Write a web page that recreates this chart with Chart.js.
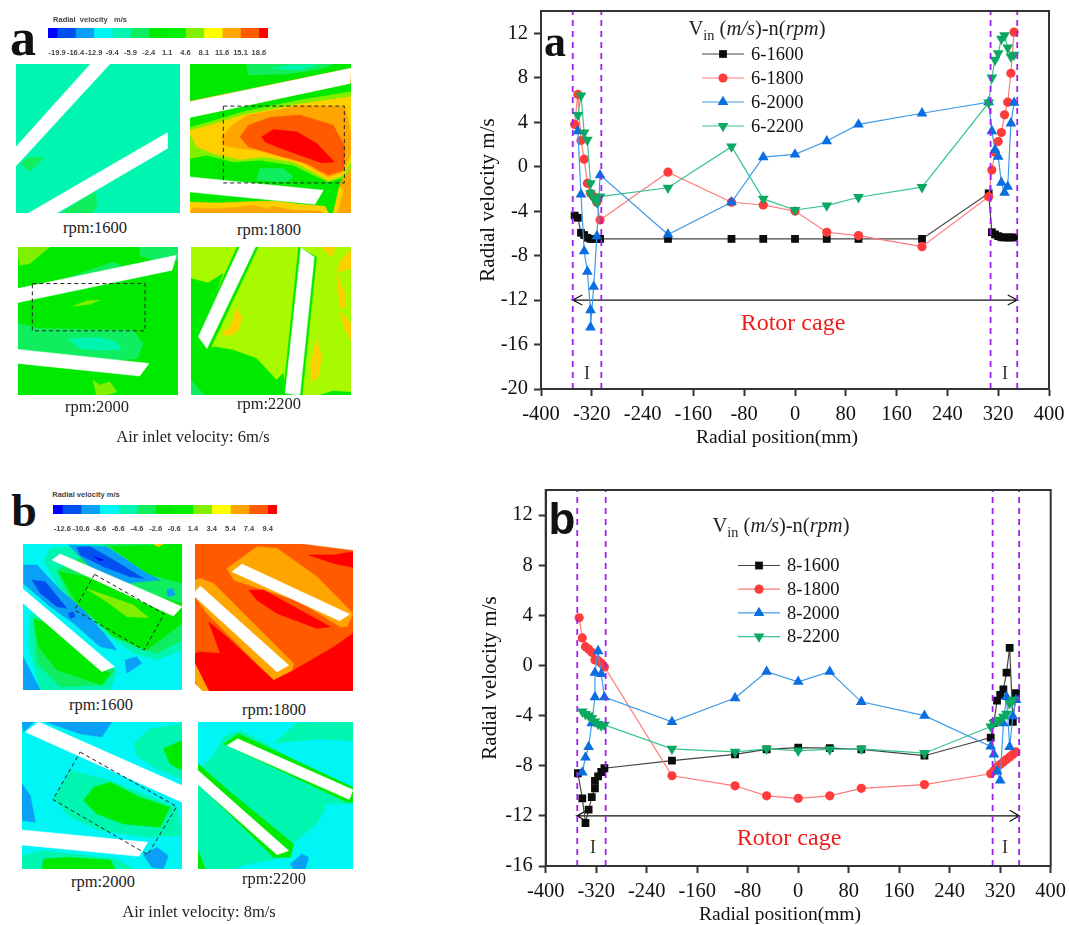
<!DOCTYPE html>
<html>
<head>
<meta charset="utf-8">
<title>Radial velocity</title>
<script src="https://cdn.jsdelivr.net/npm/chart.js@4/dist/chart.umd.min.js"></script>
<style>
body{margin:0;background:#fff}
#page{position:relative;width:1069px;height:925px;overflow:hidden;font-family:'Liberation Serif',serif;color:#111}
#page canvas{position:absolute}
canvas.cfd{filter:blur(.45px)}
.t{position:absolute;transform:translate(-50%,-50%);white-space:nowrap;line-height:1}
.cap{font-size:16.5px;color:#222}
.big{font-weight:bold}
.sans{font-family:'Liberation Sans',sans-serif}
.head{font-size:20.5px;color:#222}
.rotor{font-size:24px;color:#f01c1c}
.zone{font-size:18px;color:#332}
.axis{font-size:19.5px;color:#111}
.cb{font:bold 7.5px 'Liberation Sans',sans-serif;color:#444}
sub{font-size:.7em;line-height:0}
</style>
</head>
<body>
<div id="page"></div>
<script>
// x positions, mm
const leftX=[-347,-342,-337,-332,-327,-322,-317,-312,-307];
const leftXDup=[-342,-337,-332,-327,-322,-322,-317,-312,-307];
const midX=[-200,-100,-50,0,50,100,200];
const rightX=[305,310,315,320,325,330,335,340,345];
const xTicks=[-400,-320,-240,-160,-80,0,80,160,240,320,400];
const guideX=[-350,-305,308,350];
const arrowX=[-335,-350,-335,-350,350,335,350,335];
const arrowOffset=[.45,0,-.45,0,0,.45,0,-.45];

// chart a, Vin 6 m/s
const a1600=[-4.4,-4.6,-5.95,-6.15,-6.4,-6.5,-6.5,-6.5,-6.5,-6.5,-6.5,-6.5,-6.5,-6.5,-6.5,-6.5,-2.4,-5.9,-6.1,-6.25,-6.35,-6.37,-6.37,-6.37,-6.37];
const a1800=[3.8,6.5,2.35,.67,-1.5,-2.4,-2.7,-3.2,-4.8,-.5,-3.2,-3.45,-4,-5.9,-6.2,-7.2,-2.7,-.3,1.3,2.26,3.07,4.66,5.8,8.4,12.1];
const a2000=[3.2,-2.5,-7.6,-9.45,-12.9,-14.45,-10.8,-6.25,-.76,-6.1,-3.2,.85,1.1,2.3,3.8,4.8,5.8,3.2,1.5,.9,-1.45,-2.35,-1.8,3.9,5.75];
const a2200=[4.63,6.4,3.07,2.4,-1.5,-2.4,-2.86,-3.2,-2.7,-1.9,1.8,-2.9,-3.9,-3.5,-2.75,-1.85,5.75,8,9.6,10.2,11.5,11.8,10.7,9.9,10.05];

// chart b, Vin 8 m/s
const bBlackLeftX=[-349,-342,-337,-332,-327,-322,-322,-317,-312,-307];
const bGreenLeftX=[-342,-337,-332,-327,-322,-317,-312,-307];
const b1600=[-8.6,-10.6,-12.57,-11.5,-10.5,-9.8,-9.2,-8.85,-8.5,-8.2,-7.6,-7.1,-6.7,-6.55,-6.6,-6.7,-7.2,-5.75,-4.6,-2.8,-2.35,-1.9,-.57,1.4,-4.5,-2.2];
const b1800=[3.8,2.2,1.5,1.29,1.05,.44,.38,.17,-.12,-8.8,-9.6,-10.4,-10.6,-10.4,-9.8,-9.5,-8.64,-8.4,-8.1,-7.9,-7.7,-7.5,-7.3,-7.1,-6.9];
const b2000=[-8.53,-7.34,-6.5,-4.6,-2.53,-.57,1.15,-.68,-2.53,-4.5,-2.6,-.5,-1.3,-.5,-2.9,-4,-6.46,-7.1,-8.45,-9.17,-4.6,-2.5,-6.5,-4.05,-2.75];
const b2200=[-3.68,-3.89,-4,-4.2,-4.47,-4.68,-4.8,-4.74,-6.65,-6.9,-6.65,-6.8,-6.7,-6.65,-7,-4.87,-4.6,-4.45,-4.34,-4.1,-3.86,-3,-2.75];

// colour bar levels
const levelsA=[-19.9,-16.4,-12.9,-9.4,-5.9,-2.4,1.1,4.6,8.1,11.6,15.1,18.6];
const levelsB=[-12.6,-10.6,-8.6,-6.6,-4.6,-2.6,-.6,1.4,3.4,5.4,7.4,9.4];
const levelColors=['#0000ff','#0050f0','#0aa0f5','#00f5f5','#00f5b0','#10ee60','#00ea00','#00f000','#80f000','#ffff00','#ffa500','#ff5a00','#ff0000','#ffffff','#a8fa00','#ffd000'];

// contour regions: [level, x,y, x,y, ...], measured in the crop of each panel. 13 = blade
const p6_1600=[[4,47,192,538,192,538,638,47,638],[5,60,490,88,470,133,472,88,512],[5,180,638,240,600,285,572,290,615,275,638],
 [13,47,440,270,192,328,192,47,497],[13,85,638,500,398,500,445,170,638]];
const p6_1800=[[10,570,192,1053,192,1053,638,570,638],[6,570,192,1053,192,1053,203,570,302],[5,740,192,1000,192,960,208,860,222,745,225],[4,815,205,870,195,950,195,900,210],
 [6,570,352,1053,250,1053,470,1020,550,1000,638,570,638],[8,570,382,640,362,730,335,900,300,1053,275,1053,500,1035,530,985,545,930,520,880,495,780,480,700,485,620,465,570,475],
 [15,570,392,640,372,730,345,900,312,1053,290,1053,480,1030,525,985,540,930,510,880,485,790,470,720,478,640,460,590,440,570,400],
 [10,665,410,700,372,745,345,900,318,1035,320,1053,400,1053,460,1030,515,985,530,930,500,880,470,790,452,720,445,670,435],
 [11,720,410,745,375,810,352,900,345,1000,375,1035,440,1030,510,985,525,920,490,830,465,745,440],
 [12,785,410,820,388,890,395,950,430,1003,485,965,488,900,465,830,440,795,425],[5,770,540,780,505,850,505,880,530,860,545],
 [15,570,605,650,608,780,603,830,603,900,612,975,618,985,638,570,638],[10,570,638,580,622,650,625,720,620,760,615,800,625,820,618,880,630,960,632,970,638],
 [15,1018,560,1030,570,1012,638,1000,638],[13,570,530,970,570,945,612,570,575],[13,570,305,1053,205,1050,250,570,352]];
const p6_2000=[[6,55,50,535,50,535,495,55,495],[8,55,50,150,50,120,75,90,100,60,105,55,70],[5,420,50,535,50,535,90,480,95,420,75],[5,210,140,340,95,370,110],
 [5,55,280,120,295,400,300,430,340,415,385,300,395,55,360],[4,205,325,300,322,350,335,365,360,290,360,240,355],[8,220,228,260,212,300,210,270,222],[8,280,450,300,465,330,455,352,485,320,495,290,495],
 [13,55,175,530,75,517,120,55,217],[13,55,358,448,400,420,438,55,400]];
const p6_2200=[[14,574,50,1053,50,1053,495,574,495],[6,574,145,625,158,670,130,600,320,620,355,645,350,700,360,770,385,830,450,850,430,860,495,574,495],[6,960,495,1000,483,1053,487,1053,495],[5,574,450,600,480,615,495,574,495],
 [15,710,235,728,262,715,300,690,318,665,310,695,285],[15,950,330,965,380,955,440,935,455,932,400],[15,1010,130,1035,190,1035,230,1020,235],[15,1020,245,1053,280,1053,330,1035,300],[15,965,50,1005,50,995,80],[15,1053,60,1053,115,1012,125,1022,90],
 [6,712,50,775,50,630,360,590,320],[6,896,50,950,80,907,495,850,495],[13,720,50,767,50,622,355,596,320],[13,903,53,943,80,900,495,856,490]];
const p8_1600=[[3,68,162,546,162,546,600,68,600],[4,130,210,150,175,300,162,546,162,546,480,470,510,400,490,300,420,200,340],[5,170,240,320,162,546,162,546,450,470,490,400,470,300,400,210,330],
 [6,330,170,546,162,546,280,440,250],[6,175,245,280,265,546,340,546,400,440,480,340,440,230,340],[2,205,165,320,170,440,250,480,270,380,280,270,230],[1,230,172,270,170,340,210,430,265,390,260,310,230,240,195],[0,280,200,310,210,300,212],
 [2,70,225,110,225,180,300,250,360,320,440,350,480,300,470,220,400,150,350,68,280],[1,95,270,135,275,200,355,170,350,120,310],[1,205,370,220,365,225,380,210,385],
 [2,375,510,410,500,425,520,395,540,380,550],[4,90,370,150,385,350,545,330,600,120,600,85,470],[5,100,385,140,390,300,515,345,540,310,585,180,590,110,520],[6,100,390,130,395,300,535,330,550,305,585,170,540,115,470],[2,68,500,120,600,68,600],
 [8,255,295,300,310,400,345,445,383,380,380,320,335],[2,500,300,518,295,525,315,505,320],[15,460,162,490,162,475,170],[13,155,210,180,192,546,350,520,378],[13,68,297,343,530,305,545,68,340]];
const p8_1800=[[11,584,162,1058,162,1058,602,584,602],[10,680,235,770,170,830,175,950,260,1058,370,1040,410,1020,410,890,330,760,290,700,270],[12,925,195,1000,195,1058,185,1058,232,1000,220],[12,745,300,790,300,900,360,990,410,950,415,830,370,770,330],
 [10,584,270,600,265,640,280,760,400,880,520,870,555,820,570,720,470,620,370,584,320],[12,584,490,600,485,660,490,625,395,680,440,820,570,880,540,1000,470,1058,430,1058,602,625,602,584,530],[10,584,520,625,602,600,602,584,570],
 [13,584,580,605,602,584,602],[13,900,160,1058,160,1058,180],[13,695,245,725,222,1048,372,1018,392],[13,584,305,600,288,865,525,830,545,584,320]];
const p8_2000=[[3,65,65,546,65,546,505,65,505],[2,135,65,335,65,305,110,240,100],[2,65,65,100,65,70,95],[2,65,250,90,285,105,365,65,360],[4,400,130,450,85,546,70,546,235,470,205,410,165],[6,490,145,546,120,546,210,510,190],
 [4,160,295,210,210,330,240,530,320,546,405,440,410,300,390,210,350],[6,250,300,280,260,330,245,420,290,510,320,480,380,370,370,290,340],[4,65,465,130,450,350,475,400,505,65,505],[6,125,505,130,475,200,470,330,478,345,505],[2,430,462,470,440,505,465,490,505,455,500],
 [13,75,95,115,65,546,255,546,305],[13,65,388,443,425,417,467,65,433]];
const p8_2200=[[3,593,65,1058,65,1058,505,593,505],[4,593,210,640,165,670,110,720,90,800,130,1058,290,1058,310,980,310,950,370,880,425,860,470,740,490,700,505,593,505],[4,890,68,1058,65,1058,122,960,115,820,128],
 [6,670,130,715,100,1058,260,1058,305,1040,305],[6,593,190,690,275,880,430,870,470,820,470,593,250],[6,593,450,615,505,593,505],[2,870,490,905,460,925,470,915,505,880,505],[13,680,135,712,115,1058,268,1047,297],[13,593,210,865,450,830,462,593,252]];

// dashed boxes on the contour panels
const box6_1800=[670,318,1033,318,1033,548,670,548];
const box6_2000=[98,160,436,160,436,302,98,302];
const box8_1600=[283,253,492,372,432,480,223,360];
const box8_2000=[240,155,530,318,443,462,158,297];

const page=document.getElementById('page');
Chart.defaults.font.family="'Liberation Serif',serif";
Chart.defaults.animation=false;

function addCanvas(left,top,w,h,cls){
 const c=document.createElement('canvas');
 c.width=w;c.height=h;
 c.style.cssText=`left:${left}px;top:${top}px;width:${w}px;height:${h}px`;
 if(cls)c.className=cls;
 page.appendChild(c);
 return c;
}
function addText(html,x,y,cls,size){
 const s=document.createElement('span');
 s.className='t '+cls;
 s.innerHTML=html;
 s.style.left=x+'px';s.style.top=y+'px';
 if(size)s.style.fontSize=size+'px';
 page.appendChild(s);
}
function pairs(list){
 const out=[];
 for(let i=0;i<list.length;i+=2)out.push({x:list[i],y:list[i+1]});
 return out;
}
function zip(xs,ys){return xs.map((x,i)=>({x,y:ys[i]}));}

// one contour panel: filled polygons on its own scatter chart
function contour(cropX,cropY,layers,box){
 const r=layers[0];
 const x0=r[1],y0=r[2],x1=r[5],y1=r[6];
 const c=addCanvas(Math.round(cropX+x0/3),Math.round(cropY+y0/3),Math.round((x1-x0)/3),Math.round((y1-y0)/3),'cfd');
 const datasets=layers.map((l,i)=>{
  const pts=pairs(l.slice(1));
  pts.push(pts[0]);
  return {data:pts,showLine:true,fill:'shape',backgroundColor:levelColors[l[0]],borderColor:levelColors[l[0]],borderWidth:.5,pointRadius:0,order:layers.length-i+1};
 });
 if(box){
  const pts=pairs(box);
  pts.push(pts[0]);
  datasets.push({data:pts,showLine:true,fill:false,borderColor:'#222',borderWidth:1,borderDash:[4,3],pointRadius:0,order:0});
 }
 new Chart(c,{type:'scatter',data:{datasets},options:{responsive:false,
  plugins:{legend:{display:false},tooltip:{enabled:false}},
  scales:{x:{display:false,min:x0,max:x1},y:{display:false,reverse:true,min:y0,max:y1}}}});
}

function colorBar(levels,left,top,w,h){
 const half=(levels[1]-levels[0])/2;
 const edges=[levels[0]-half,...levels,levels[levels.length-1]+half];
 const datasets=[];
 for(let i=0;i<edges.length-1;i++){
  datasets.push({data:[[edges[i],edges[i+1]]],backgroundColor:levelColors[i],barPercentage:1,categoryPercentage:1,grouped:false});
 }
 const c=addCanvas(left-12,top-1,w+24,h+18);
 new Chart(c,{type:'bar',data:{labels:[''],datasets},options:{responsive:false,indexAxis:'y',
  layout:{padding:{left:12,right:12,top:1}},
  plugins:{legend:{display:false},tooltip:{enabled:false}},
  scales:{y:{display:false},
   x:{min:edges[0],max:edges[edges.length-1],grid:{display:false},border:{display:false},
    afterBuildTicks:s=>{s.ticks=levels.map(value=>({value}));},
    afterFit:s=>{s.height=17;},
    ticks:{autoSkip:false,maxRotation:0,padding:2,color:'#444',font:{family:"'Liberation Sans',sans-serif",size:7.5,weight:'bold'},callback:v=>v.toFixed(1)}}}}});
}

// draws the line + marker key from the first four datasets
const seriesKey={id:'seriesKey',afterDatasetsDraw(chart,args,o){
 const ctx=chart.ctx;
 chart.data.datasets.slice(0,4).forEach((d,i)=>{
  const y=o.y+i*o.dy;
  ctx.save();
  ctx.strokeStyle=d.borderColor;ctx.lineWidth=1.2;
  ctx.beginPath();ctx.moveTo(o.x,y);ctx.lineTo(o.x+42,y);ctx.stroke();
  ctx.fillStyle=d.pointBackgroundColor;ctx.strokeStyle=d.pointBackgroundColor;
  Chart.helpers.drawPoint(ctx,{pointStyle:d.pointStyle,rotation:d.pointRotation||0,radius:d.pointRadius,borderWidth:0},o.x+21,y);
  ctx.fillStyle='#111';ctx.font="18.5px 'Liberation Serif'";ctx.textBaseline='middle';ctx.textAlign='left';
  ctx.fillText(d.label,o.x+49,y+1);
  ctx.restore();
 });
}};
const frame={id:'frame',afterDraw(chart){
 const a=chart.chartArea,ctx=chart.ctx;
 ctx.save();ctx.strokeStyle='#333';ctx.lineWidth=2;
 ctx.strokeRect(a.left,a.top,a.right-a.left,a.bottom-a.top);
 ctx.restore();
}};

function series(label,xs,ys,color,lineColor,style,radius,rot,order){
 return {label,data:zip(xs,ys),borderColor:lineColor,pointBackgroundColor:color,pointBorderColor:color,pointBorderWidth:0,
  pointStyle:style,pointRadius:radius,pointRotation:rot,borderWidth:1.2,showLine:true,tension:0,fill:false,order};
}

function radialChart(cfg){
 const datasets=[...cfg.series];
 guideX.forEach(x=>datasets.push({data:[{x,y:cfg.yMin},{x,y:14}],showLine:true,borderColor:'#a020f0',borderWidth:1.8,borderDash:[6,5],pointRadius:0,order:0}));
 datasets.push({data:arrowX.map((x,i)=>({x,y:-12+arrowOffset[i]})),showLine:true,borderColor:'#111',borderWidth:1.2,pointRadius:0,order:6});
 const c=addCanvas(cfg.left,cfg.top,cfg.w,cfg.h);
 new Chart(c,{type:'scatter',data:{datasets},plugins:[seriesKey,frame],options:{responsive:false,
  layout:{padding:{top:cfg.padTop,right:cfg.padRight}},
  plugins:{legend:{display:false},tooltip:{enabled:false},seriesKey:cfg.key},
  scales:{
   x:{min:-400,max:400,grid:{drawOnChartArea:false,tickLength:7,tickWidth:2,tickColor:'#333'},border:{color:'#333',width:2},
    afterBuildTicks:s=>{s.ticks=xTicks.map(value=>({value}));},
    afterFit:s=>{s.height=cfg.xH;},
    ticks:{autoSkip:false,maxRotation:0,padding:6,color:'#111',font:{size:20.5},callback:v=>String(v)}},
   y:{min:cfg.yMin,max:14,grid:{drawOnChartArea:false,tickLength:7,tickWidth:2,tickColor:'#333'},border:{color:'#333',width:2},
    afterFit:s=>{s.width=cfg.yW;},
    ticks:{stepSize:4,includeBounds:false,padding:6,color:'#111',font:{size:20.5}},
    title:{display:true,text:'Radial velocity m/s',color:'#111',font:{size:21},padding:{top:cfg.titlePad,bottom:0}}}}}});
}

const BLK='#0c0c0c',BLKL='#444',RED='#ff3b3b',REDL='#ff7a7a',BLU='#0a6ee0',BLUL='#3f9ae8',GRN='#0aa860',GRNL='#38c490';

radialChart({left:470,top:-20,w:630,h:470,padTop:31,padRight:51,yW:71,xH:61,yMin:-20,titlePad:6,
 key:{x:232,y:74,dy:24},
 series:[
  series('6-1600',[...leftX,...midX,...rightX],a1600,BLK,BLKL,'rect',5.5,0,4),
  series('6-1800',[...leftX,...midX,...rightX],a1800,RED,REDL,'circle',4.6,0,3),
  series('6-2000',[...leftXDup,...midX,...rightX],a2000,BLU,BLUL,'triangle',6.2,0,2),
  series('6-2200',[...leftXDup,...midX,...rightX],a2200,GRN,GRNL,'triangle',6.2,180,1)]});

radialChart({left:470,top:470,w:630,h:455,padTop:20,padRight:49.3,yW:75.7,xH:59,yMin:-16,titlePad:8,
 key:{x:268,y:95.5,dy:23.7},
 series:[
  series('8-1600',[...bBlackLeftX,...midX,...rightX],b1600,BLK,BLKL,'rect',5.5,0,4),
  series('8-1800',[...leftX,...midX,...rightX],b1800,RED,REDL,'circle',4.6,0,3),
  series('8-2000',[...leftXDup,...midX,...rightX],b2000,BLU,BLUL,'triangle',6.2,0,2),
  series('8-2200',[...bGreenLeftX,...midX,...rightX],b2200,GRN,GRNL,'triangle',6.2,180,1)]});

contour(0,0,p6_1600);
contour(0,0,p6_1800,box6_1800);
contour(0,230,p6_2000,box6_2000);
contour(0,230,p6_2200);
contour(0,490,p8_1600,box8_1600);
contour(0,490,p8_1800);
contour(0,700,p8_2000,box8_2000);
contour(0,700,p8_2200);

colorBar(levelsA,48,28,220,10);
colorBar(levelsB,53,505,224,9);

const key='V<sub>in</sub> (<i>m/s</i>)-n(<i>rpm</i>)';
addText('a',23,38,'big',52);
addText('b',24,511,'big',46);
addText('Radial&nbsp; velocity&nbsp;&nbsp; m/s',90,19,'cb');
addText('Radial velocity m/s',86,494,'cb');
addText('rpm:1600',95,228,'cap');addText('rpm:1800',269,230,'cap');
addText('rpm:2000',97,407,'cap');addText('rpm:2200',269,404,'cap');
addText('Air inlet velocity: 6m/s',193,437,'cap');
addText('rpm:1600',101,705,'cap');addText('rpm:1800',274,710,'cap');
addText('rpm:2000',103,882,'cap');addText('rpm:2200',274,879,'cap');
addText('Air inlet velocity: 8m/s',199,912,'cap');
addText('a',555,42,'big',44);
addText('b',562,519,'big sans',44);
addText(key,757,28,'head');
addText(key,781,525,'head');
addText('Rotor cage',793,322,'rotor');
addText('Rotor cage',789,837,'rotor');
addText('I',587,373,'zone');addText('I',1005,373,'zone');
addText('I',593,847,'zone');addText('I',1005,847,'zone');
addText('Radial position(mm)',777,437,'axis');
addText('Radial position(mm)',780,914,'axis');
</script>
</body>
</html>
